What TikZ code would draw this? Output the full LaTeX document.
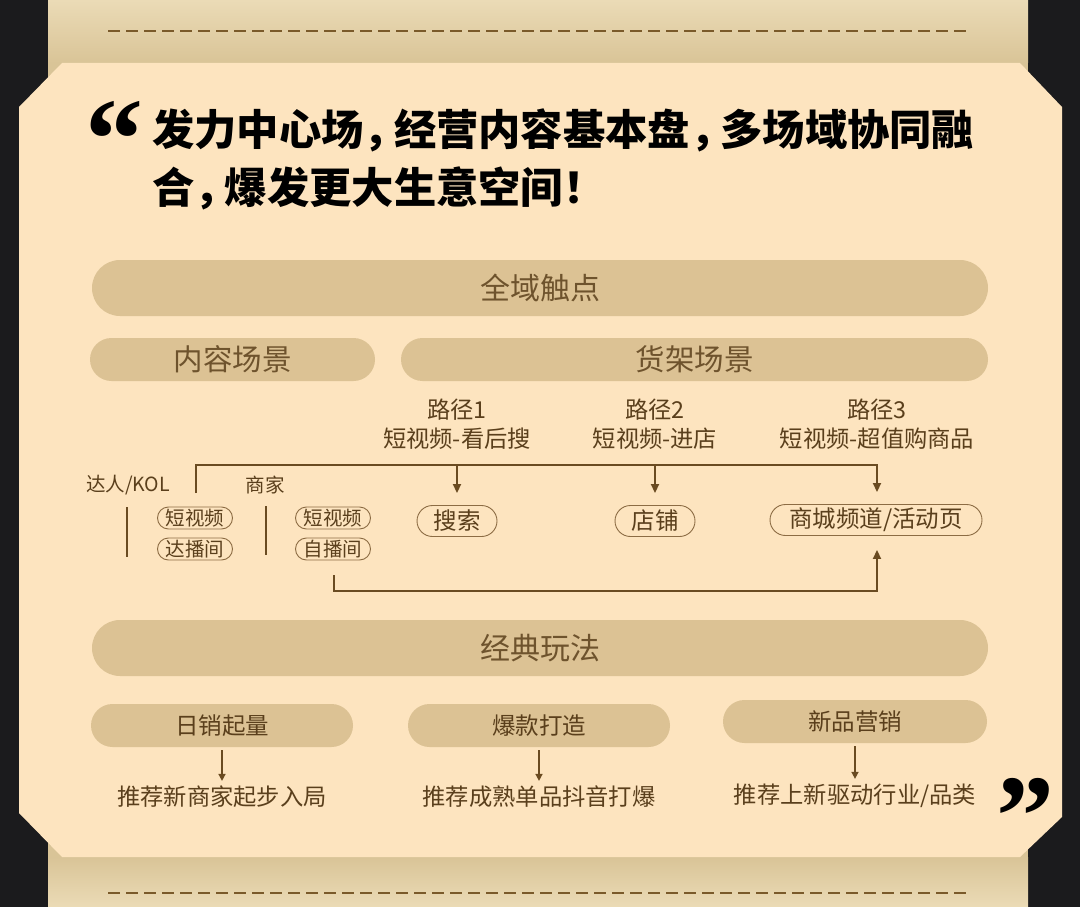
\documentclass[tikz,border=0pt]{standalone}
\usepackage{fontspec}
\newfontfamily\cjk{Noto Sans CJK SC}
\newfontfamily\qfont{Liberation Serif}
\usetikzlibrary{arrows.meta}
\definecolor{darkbg}{HTML}{1B1B1D}
\definecolor{cardc}{HTML}{FDE4BF}
\definecolor{barc}{HTML}{DCC294}
\definecolor{bartext}{HTML}{6E532D}
\definecolor{bodytext}{HTML}{5A3F1C}
\definecolor{linec}{HTML}{6A4B21}
\definecolor{pillc}{HTML}{8C6C44}
\definecolor{dashc}{HTML}{7A5A2A}
\definecolor{sheettop}{HTML}{EBDBB6}
\definecolor{sheetmid}{HTML}{D9C497}
\newcommand{\qc}{，\kern-12pt}
\begin{document}
\begin{tikzpicture}[x=1pt,y=-1pt,
  bar/.style={fill=barc,text=bartext,inner sep=0pt,font=\cjk\fontsize{30}{33}\selectfont},
  subbar/.style={fill=barc,text=bartext,inner sep=0pt,minimum height=43pt,rounded corners=21.5pt,font=\cjk\fontsize{29.5}{33}\selectfont},
  smallbar/.style={fill=barc,text=bodytext,inner sep=0pt,minimum height=43pt,minimum width=262pt,rounded corners=21.5pt,font=\cjk\fontsize{23.5}{27}\selectfont},
  body/.style={text=bodytext,inner sep=0pt,font=\cjk\fontsize{23.3}{27}\selectfont},
  lab/.style={text=bodytext,inner sep=0pt,font=\cjk\fontsize{19.5}{22}\selectfont},
  pill/.style={draw=pillc,line width=0.9pt,text=bodytext,inner sep=0pt,minimum height=22pt,minimum width=75pt,rounded corners=11pt,font=\cjk\fontsize{19.5}{22}\selectfont},
  bigpill/.style={draw=pillc,line width=0.9pt,text=bodytext,inner sep=0pt,minimum height=31pt,rounded corners=15.5pt,font=\cjk\fontsize{23.5}{26}\selectfont},
  conn/.style={draw=linec,line width=1.8pt},
  arr/.style={conn,-{Triangle[width=8pt,length=9pt]}},
  dline/.style={draw=dashc,line width=1.6pt,dash pattern=on 12pt off 6pt},
  quote/.style={inner sep=0pt,text=black,font=\cjk\bfseries\fontsize{42.3}{48}\selectfont},
  qmark/.style={inner sep=0pt,text=black,font=\qfont\bfseries\fontsize{116}{116}\selectfont}]
\useasboundingbox (0,0) rectangle (1080,907);
% background
\fill[darkbg] (0,0) rectangle (1080,907);
\fill[sheetmid] (48,0) rectangle (1028,907);
\shade[top color=sheettop,bottom color=sheetmid] (48,0) rectangle (1028,63);
\shade[top color=sheetmid,bottom color=sheettop] (48,857) rectangle (1028,907);
\draw[dline] (108,31) -- (968,31);
\draw[dline] (108,893) -- (968,893);
% card
\fill[cardc] (19,107) -- (62,63) -- (1020,63) -- (1062,107) -- (1062,817) -- (1020,857) -- (62,857) -- (19,813) -- cycle;
% quote
\node[qmark,anchor=base west] (qopen) at (85,178) {“};
\node[qmark,anchor=base west] (qclose) at (996,855) {”};
\node[quote,anchor=west] (q1) at (152,130) {发力中心场\qc 经营内容基本盘\qc 多场域协同融};
\node[quote,anchor=west] (q2) at (152,188) {合\qc 爆发更大生意空间！};
% bars
\node[bar,minimum width=896pt,minimum height=56pt,rounded corners=28pt] (qy) at (540,288) {全域触点};
\node[subbar,minimum width=285pt] (nr) at (232.5,359.5) {内容场景};
\node[subbar,minimum width=587pt] (hj) at (694.5,359.5) {货架场景};
\node[bar,minimum width=896pt,minimum height=56pt,rounded corners=28pt] (jd) at (540,648) {经典玩法};
% path labels
\node[body] (p1) at (457,410) {路径1};
\node[body] (p1b) at (457,439) {短视频-看后搜};
\node[body] (p2) at (655,410) {路径2};
\node[body] (p2b) at (655,439) {短视频-进店};
\node[body] (p3) at (877,410) {路径3};
\node[body] (p3b) at (877,439) {短视频-超值购商品};
% left labels
\node[lab] (kol) at (128,485) {达人/KOL};
\node[lab] (sj) at (265,485) {商家};
\coordinate (kl1) at (127,507);
\coordinate (kl2) at (127,557);
\coordinate (sl1) at (266,506);
\coordinate (sl2) at (266,555);
\draw[conn] (kl1) -- (kl2);
\draw[conn] (sl1) -- (sl2);
\node[pill] (k1) at (195,518) {短视频};
\node[pill] (k2) at (195,549) {达播间};
\node[pill] (s1) at (333,518) {短视频};
\node[pill] (s2) at (333,549) {自播间};
% targets
\node[bigpill,minimum width=80pt] (search) at (457,521) {搜索};
\node[bigpill,minimum width=80pt] (shop) at (655,521) {店铺};
\node[bigpill,minimum width=212pt] (mall) at (876,520) {商城频道/活动页};
% connectors
\coordinate (hl) at (196,493);
\coordinate (c3) at (877,465);
\draw[arr,shorten >=12pt] (hl) -- (hl |- c3) -- (c3) -- (mall.north -| c3);
\draw[arr,shorten >=12pt] (search.north |- c3) -- (search.north);
\draw[arr,shorten >=12pt] (shop.north |- c3) -- (shop.north);
\coordinate (bs) at (334,575);
\draw[arr,shorten >=14pt] (bs) -- (334,591) -| (mall.south -| c3);
% bottom section
\node[smallbar] (b1) at (222,725.5) {日销起量};
\node[smallbar] (b2) at (539,725.5) {爆款打造};
\node[smallbar,minimum width=264pt] (b3) at (855,721.5) {新品营销};
\node[body] (t1) at (222,797) {推荐新商家起步入局};
\node[body] (t2) at (539,797) {推荐成熟单品抖音打爆};
\node[body] (t3) at (855,796) {推荐上新驱动行业/品类};
\draw[arr,line width=1.5pt,-{Triangle[width=7pt,length=7pt]},shorten <=3pt,shorten >=5pt] (b1.south) -- (t1.north);
\draw[arr,line width=1.5pt,-{Triangle[width=7pt,length=7pt]},shorten <=3pt,shorten >=5pt] (b2.south) -- (t2.north);
\draw[arr,line width=1.5pt,-{Triangle[width=7pt,length=7pt]},shorten <=3pt,shorten >=5pt] (b3.south) -- (t3.north);
\end{tikzpicture}
\end{document}
